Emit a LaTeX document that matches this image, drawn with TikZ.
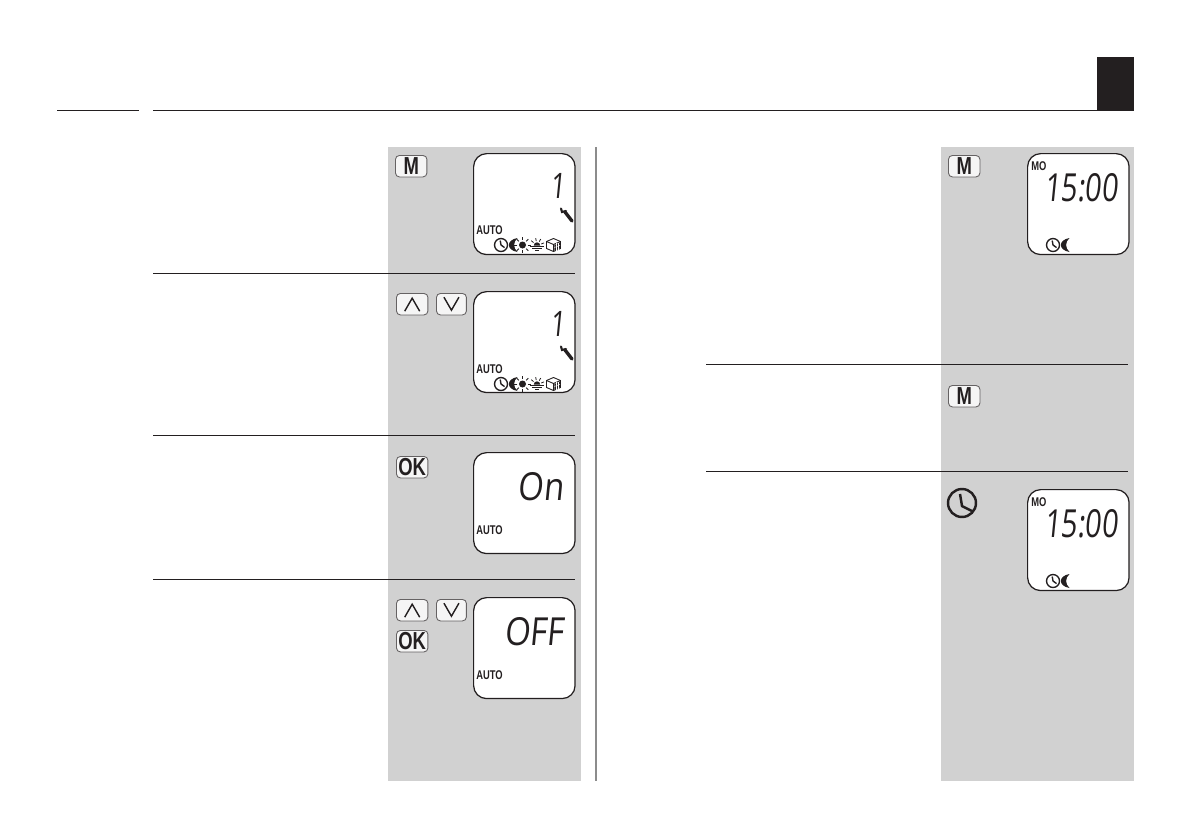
\documentclass[tikz,border=0pt]{standalone}
\usepackage{fontspec}
\usepackage{tikz}
\usetikzlibrary{calc}
\setmainfont{Liberation Sans}
\newfontfamily\lcdfont[FakeSlant=0.1,FakeStretch=0.85]{Open Sans}
\newfontfamily\lcdnarrow[FakeSlant=0.1,FakeStretch=0.74]{Open Sans}
\newfontfamily\keyfont[FakeStretch=0.75]{Liberation Sans Bold}
\newfontfamily\labelfont[FakeStretch=0.74]{Liberation Sans Bold}
\definecolor{panelgray}{HTML}{D1D1D1}
\definecolor{inkblack}{HTML}{231F20}
\tikzstyle{lcdbox} = [draw=inkblack,fill=white,line width=0.7pt,rounded corners=0.26cm,anchor=north west,minimum width=2.03cm,minimum height=2.02cm,inner sep=0pt]
\tikzstyle{keybox} = [draw=inkblack!70,fill=white!96!black,line width=0.5pt,rounded corners=0.08cm,anchor=north west,minimum width=0.63cm,minimum height=0.43cm,inner sep=0pt]
\tikzstyle{rule} = [draw=inkblack,line width=0.45pt]
\tikzstyle{seg} = [inkblack,line cap=round]
\tikzstyle{lcdtext} = [inkblack,inner sep=0pt,anchor=base east]
\tikzstyle{autotext} = [inkblack,inner sep=0pt,anchor=base west,font=\labelfont\fontsize{7.2}{8}\selectfont]
\tikzstyle{keytext} = [inkblack,inner sep=0pt,font=\keyfont\fontsize{14}{14}\selectfont]

% small round clock, centre #1,#2 radius #3
\newcommand{\clockicon}[3]{
\draw[inkblack,line width=#3*0.12pt] (#1,#2) circle ({#3*0.02cm});
\draw[inkblack,line width=#3*0.12pt] (#1-#3*0.12,#2-#3*0.68) -- (#1,#2) -- (#1+#3*0.55,#2+#3*0.4);
}
\newcommand{\moonicon}[2]{
\fill[inkblack] (#1+3.5,#2-7) .. controls (#1-8,#2-5) and (#1-8,#2+5) .. (#1+3.5,#2+7) .. controls (#1-1,#2+3) and (#1-1,#2-3) .. (#1+3.5,#2-7);
}
\newcommand{\sunicon}[2]{
\fill[inkblack] (#1,#2) circle (0.07cm);
\foreach \a in {0,45,...,315}
{
\draw[inkblack,line width=0.5pt] ($(#1,#2)+(\a:0.105cm)$) -- ($(#1,#2)+(\a:0.165cm)$);
}
}
\newcommand{\dawnicon}[2]{
\fill[inkblack] (#1-3.2,#2+0.5) arc (180:360:3.2);
\foreach \a in {20,60,...,160}
{
\draw[inkblack,line width=0.45pt] ($(#1,#2+0.5)+(\a:0.09cm)$) -- ($(#1,#2+0.5)+(\a:0.15cm)$);
}
\draw[inkblack,line width=0.5pt] (#1-7,#2+1) -- (#1+7,#2+1);
\draw[inkblack,line width=0.5pt] (#1-5,#2+3.3) -- (#1+5,#2+3.3);
\draw[inkblack,line width=0.5pt] (#1-2,#2+5.6) -- (#1+2,#2+5.6);
}
\newcommand{\cubeicon}[2]{
\draw[inkblack,line width=0.5pt,fill=white] (#1-7,#2-3.5) -- (#1,#2-6.5) -- (#1+7,#2-3.5) -- (#1+7,#2+3.5) -- (#1,#2+6.5) -- (#1-7,#2+3.5) -- cycle;
\draw[inkblack,line width=0.5pt] (#1-7,#2-3.5) -- (#1,#2-0.5) -- (#1+7,#2-3.5);
\draw[inkblack,line width=0.5pt] (#1,#2-0.5) -- (#1,#2+6.5);
\fill[inkblack] (#1+0.8,#2) -- (#1+6.5,#2-2.5) -- (#1+6.5,#2+3.2) -- (#1+0.8,#2+5.6) -- cycle;
\foreach \i in {2.7,4.6}
{
\draw[white,line width=0.25pt] (#1+\i,#2-2) -- (#1+\i,#2+6);
}
\draw[white,line width=0.25pt] (#1+0.8,#2+2.5) -- (#1+6.5,#2+0.2);
}
% symbol row with five signs, as in the two wrench screens
\newcommand{\symbolrow}[1]{
\clockicon{501}{#1}{6.5}
\moonicon{514}{#1}
\sunicon{522.5}{#1}
\dawnicon{537}{#1}
\cubeicon{553.5}{#1}
}
\newcommand{\wrench}[1]{
\draw[seg,line width=1.9pt] (565,#1+2) -- (572,#1+11);
\draw[seg,line width=1.2pt] (561,#1-1.5) -- (562,#1+2) -- (566,#1+1);
}

\begin{document}
\begin{tikzpicture}[x=0.02cm,y=-0.02cm]
\useasboundingbox (0,0) rectangle (1191,839);

% grey columns
\fill[panelgray] (388,147) rectangle (581,781);
\fill[panelgray] (941,147) rectangle (1134,781);
\draw[draw=black!45,line width=0.6pt] (596,147) -- (596,781);

% head of page
\draw[rule] (57,110) -- (139,110);
\draw[rule] (153,110) -- (1097,110);
\fill[inkblack] (1097,57) rectangle (1134,111);

% rules between the steps
\foreach \y in {273,435,579}
{
\draw[rule] (153,\y) -- (575,\y);
}
\foreach \y in {364,471}
{
\draw[rule] (706,\y) -- (1128,\y);
}

% displays
\foreach \n/\x/\y in {a/473/153,b/473/291,c/473/452,d/473/597,e/1027/153,f/1027/489}
{
\node[lcdbox] (lcd\n) at (\x,\y) {};
}

% keys
\foreach \n/\x/\y/\t in {a/395/155/M,b/948/155/M,c/948/385/M,d/396/456/OK,e/396/630/OK}
{
\node[keybox] (key\n) at (\x,\y) {};
\node[keytext] (txt\n) at (key\n) {\t};
}
\foreach \n/\x/\y in {a/396/293,b/396/599}
{
\node[keybox] (up\n) at (\x,\y) {};
\draw[inkblack,line width=0.8pt] ([shift={(-7.5,7)}]up\n.center) -- ([shift={(0,-6)}]up\n.center) -- ([shift={(7.5,7)}]up\n.center);
}
\foreach \n/\x/\y in {a/436/293,b/436/599}
{
\node[keybox,minimum width=0.6cm] (down\n) at (\x,\y) {};
\draw[inkblack,line width=0.8pt] ([shift={(-7.5,-7)}]down\n.center) -- ([shift={(0,6)}]down\n.center) -- ([shift={(7.5,-7)}]down\n.center);
}

% clock key on the right
\draw[inkblack,line width=1.4pt] (962,503) circle (0.28cm);
\draw[inkblack,line width=1.4pt] (960,494) -- (962,506) -- (972,511);

% display contents
\node[lcdtext,font=\lcdnarrow\fontsize{20}{20}\selectfont] (numa) at (565,198) {1};
\node[lcdtext,font=\lcdnarrow\fontsize{20}{20}\selectfont] (numb) at (565,336) {1};
\wrench{210}
\wrench{348}
\symbolrow{245}
\symbolrow{384}
\foreach \n/\y in {a/234,b/373,c/534,d/679}
{
\node[autotext] (auto\n) at (476,\y) {AUTO};
}
\node[lcdtext,font=\lcdfont\fontsize{22}{22}\selectfont] (stateon) at (564,500) {On};
\node[lcdtext,font=\lcdfont\fontsize{22}{22}\selectfont] (stateoff) at (564,645) {OFF};
\node[lcdtext,font=\lcdnarrow\fontsize{22}{22}\selectfont] (timea) at (1118,201) {15:00};
\node[lcdtext,font=\lcdnarrow\fontsize{22}{22}\selectfont] (timeb) at (1118,537) {15:00};
\node[autotext] (dayb) at (1031,170) {MO};
\node[autotext] (dayc) at (1031,506) {MO};
\foreach \y in {245,581}
{
\clockicon{1053}{\y}{6.5}
\moonicon{1066}{\y}
}
\end{tikzpicture}
\end{document}
